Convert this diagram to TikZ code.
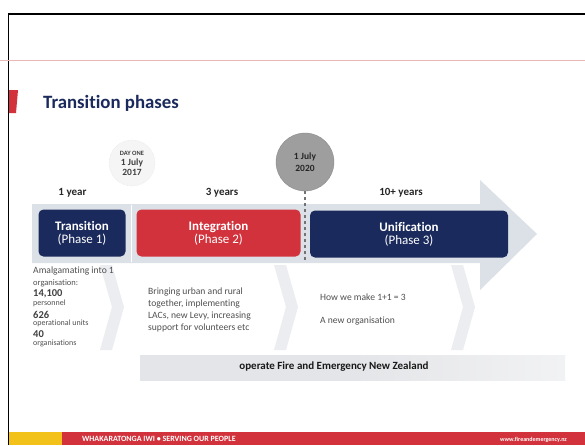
\documentclass[tikz,border=0pt]{standalone}
\usepackage{fontspec}
\setmainfont[Ligatures=NoCommon]{Carlito}
\definecolor{navy}{HTML}{1B2A5C}
\definecolor{fred}{HTML}{D2323C}
\definecolor{shaft}{HTML}{DCE0E7}
\definecolor{chev}{HTML}{ECEDF0}
\definecolor{band}{HTML}{E4E5E8}
\definecolor{txtg}{HTML}{505050}
\definecolor{pinkl}{HTML}{E9B7B7}
\definecolor{fyel}{HTML}{F2C21B}
\tikzset{
  phasebox/.style={rounded corners=5pt, minimum height=47pt, text=white, font=\bfseries\fontsize{13}{14}\selectfont, align=center, inner sep=0pt},
  yearlbl/.style={font=\bfseries\fontsize{11}{12}\selectfont, text=black!85},
  bodytxt/.style={font=\fontsize{9.6}{12}\selectfont, text=txtg, align=left, anchor=west, inner sep=0pt},
  statnum/.style={font=\bfseries\fontsize{10.5}{11}\selectfont, text=black!75, anchor=west, inner sep=0pt},
  statlbl/.style={font=\fontsize{8}{9}\selectfont, text=txtg, anchor=west, inner sep=0pt},
}
\begin{document}
\begin{tikzpicture}[x=1pt,y=-1pt]
\useasboundingbox (0,0) rectangle (585,445);
\clip (0,0) rectangle (585,445);
\fill[white] (0,0) rectangle (585,445);
% slide frame
\draw[line width=1.6pt, black] (8.5,445) -- (8.5,14) -- (590,14);
\draw[pinkl, line width=0.6pt] (0,60) -- (585,60);
% title
\fill[fred] (9,90) -- (18,90) -- (16,113) -- (9,113) -- cycle;
\node[anchor=west, font=\bfseries\fontsize{18.8}{22}\selectfont, text=navy, inner sep=0pt] (title) at (43,103) {Transition phases};
% chevrons
\foreach \cx in {100,274,451}{
  \fill[chev] (\cx,265) -- (\cx+12,265) -- (\cx+24,307) -- (\cx+12,350) -- (\cx,350) -- (\cx+12,307) -- cycle;
}
% big arrow
\fill[shaft] (32,204) -- (480,204) -- (480,180) -- (537,234) -- (480,290) -- (480,263) -- (32,263) -- cycle;
\draw[white, line width=0.8pt] (131,205) -- (131,262);
% phase boxes
\node[phasebox, fill=navy, minimum width=87pt] (p1) at (82,233) {Transition\\[-1pt]{\mdseries (Phase 1)}};
\node[phasebox, fill=fred, minimum width=164pt] (p2) at (218.5,233) {Integration\\[-1pt]{\mdseries (Phase 2)}};
\node[phasebox, fill=navy, minimum width=198pt] (p3) at (409,234) {Unification\\[-1pt]{\mdseries (Phase 3)}};
% year labels
\node[yearlbl] (y1) at (72.5,193) {1 year};
\node[yearlbl] (y3) at (222,193) {3 years};
\node[yearlbl] (y10) at (401,193) {10+ years};
% milestone circles
\node[circle, minimum size=46pt, fill=black!4, draw=black!12, densely dotted, align=center, inner sep=0pt, font=\bfseries\fontsize{9.5}{10}\selectfont, text=black!75] (d1) at (132,163) {{\fontsize{6.5}{8}\selectfont DAY ONE}\\1 July\\2017};
\node[circle, minimum size=58pt, fill=black!38, draw=black!45, align=center, inner sep=0pt, font=\bfseries\fontsize{9.5}{12}\selectfont, text=black!85] (d2) at (305,162) {1 July\\2020};
\coordinate (d2end) at (305,262);
\draw[black!55, dashed, line width=1.4pt] (d2.south) -- (d2end);
% texts below
\node[bodytxt] (t1a) at (33,271) {Amalgamating into 1};
\node[bodytxt, font=\fontsize{8.5}{10}\selectfont] (t1b) at (33,283) {organisation:};
\node[statnum] (n1) at (33,294) {14,100};
\node[statlbl] (l1) at (33,303.5) {personnel};
\node[statnum] (n2) at (33,314.5) {626};
\node[statlbl] (l2) at (33,323.5) {operational units};
\node[statnum] (n3) at (33,334.5) {40};
\node[statlbl] (l3) at (33,343.5) {organisations};
\node[bodytxt] (t3a) at (148,292) {Bringing urban and rural};
\node[bodytxt] (t3b) at (148,304) {together, implementing};
\node[bodytxt] (t3c) at (148,316) {LACs, new Levy, increasing};
\node[bodytxt] (t3d) at (148,328) {support for volunteers etc};
\node[bodytxt] (t4) at (320,297) {How we make 1+1 = 3};
\node[bodytxt] (t5) at (320,321) {A new organisation};
% bottom band
\shade[left color=band, right color=band!50!white, middle color=band] (140,355) rectangle (565,380);
\node[font=\bfseries\fontsize{11}{12}\selectfont, text=black!90] (op) at (334,367) {operate Fire and Emergency New Zealand};
% footer
\fill[fred] (9,432) rectangle (585,445);
\fill[fyel] (9,432) rectangle (62,445);
\node[anchor=west, inner sep=0pt, text=white, font=\bfseries\fontsize{8}{9}\selectfont] (f1) at (82,439) {WHAKARATONGA IWI \textbullet{} SERVING OUR PEOPLE};
\node[anchor=west, inner sep=0pt, text=white, font=\bfseries\fontsize{6}{7}\selectfont] (f2) at (500,440) {www.fireandemergency.nz};
\end{tikzpicture}
\end{document}
